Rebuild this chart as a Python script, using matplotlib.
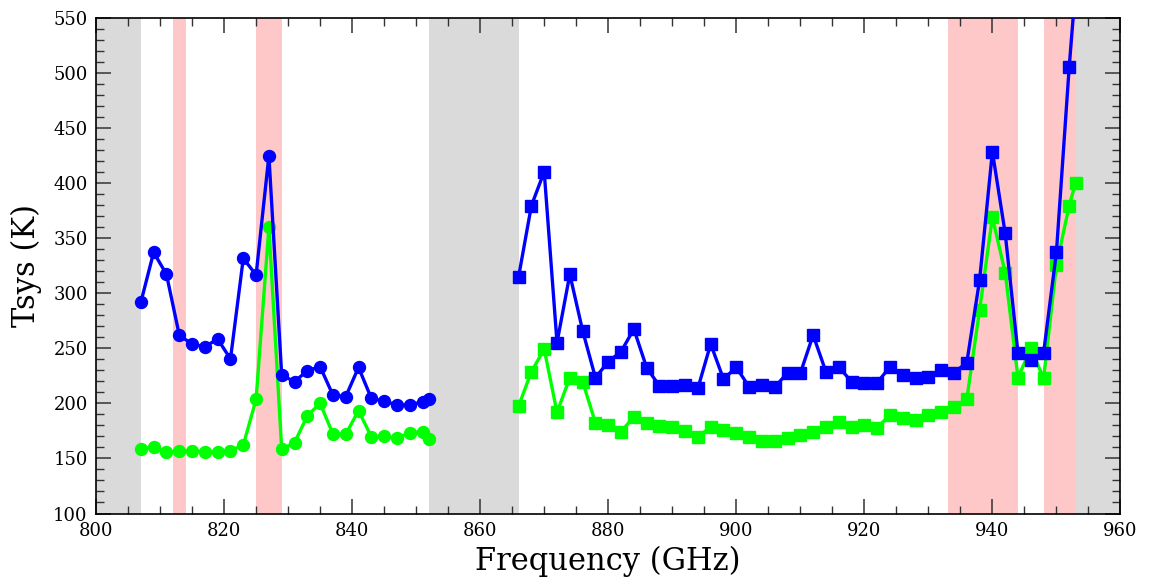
import matplotlib
matplotlib.use("Agg")
import matplotlib.pyplot as plt
from matplotlib.ticker import MultipleLocator

plt.rcParams['font.family'] = ['DejaVu Serif']

# Lower band (circles)
freq_lo = [807, 809, 811, 813, 815, 817, 819, 821, 823, 825, 827, 829, 831,
           833, 835, 837, 839, 841, 843, 845, 847, 849, 851, 852]
tsys_lo_blue = [291.6, 337, 317, 262, 253.5, 251.3, 258.3, 240.2, 331.5, 316.4,
                424.6, 225.6, 219.6, 229.6, 233.2, 207.5, 206, 232.6, 204.5, 202,
                198.4, 198.4, 201.4, 203.9]
tsys_lo_green = [158.5, 160.6, 155.5, 157, 157, 156, 156, 157, 162.1, 203.6,
                 359.6, 158.2, 164.2, 188.7, 200, 172.1, 172, 193.3, 169.7, 170,
                 168.2, 173.3, 174.2, 168]

# Upper band (squares)
freq_hi = [866, 868, 870, 872, 874, 876, 878, 880, 882, 884, 886, 888, 890,
           892, 894, 896, 898, 900, 902, 904, 906, 908, 910, 912, 914, 916,
           918, 920, 922, 924, 926, 928, 930, 932, 934, 936, 938, 940, 942,
           944, 946, 948, 950, 952, 953]
tsys_hi_blue = [314.8, 379.3, 410.1, 255, 317, 265.9, 223.2, 237.7, 246.8, 267.4,
                232.3, 215.7, 215.7, 216.6, 213.6, 253.8, 222, 232.6, 215, 216.3,
                214.5, 227.7, 227.2, 261.9, 228.6, 233, 219.6, 218.7, 218.7, 233,
                225.6, 222.7, 224.1, 230, 227.8, 236.8, 311.8, 428.3, 354.2, 245.3,
                239.3, 245.9, 337, 505.4, 578]
tsys_hi_green = [197.5, 228.6, 249.2, 191.8, 223.2, 219.6, 182.4, 180.3, 174.2,
                 187.8, 182.4, 179.4, 178.8, 175.1, 169.1, 178.8, 175.7, 173.3,
                 169.7, 166, 166, 168.2, 171.2, 174.2, 178.8, 183.3, 178.8, 180.3,
                 177.9, 189.4, 186.4, 184.8, 189.4, 192.4, 196.3, 203.6, 284.6,
                 368.7, 318.5, 223.2, 249.8, 222.7, 325.4, 379.3, 400.1]

gray_bands = [(800, 807), (852, 866), (953, 960)]
pink_bands = [(812, 814), (825, 829), (933, 944), (948, 953)]

fig = plt.figure(figsize=(11.5, 5.88), dpi=100)
ax = fig.add_axes([0.0835, 0.1267, 0.8908, 0.8435])

for a, b in gray_bands:
    ax.axvspan(a, b, color='#dadada', lw=0, zorder=0)
for a, b in pink_bands:
    ax.axvspan(a, b, color='#ffc8c8', lw=0, zorder=0)

ax.plot(freq_lo, tsys_lo_green, '-o', color='#00ff00', lw=2.4, ms=8.6, zorder=2)
ax.plot(freq_lo, tsys_lo_blue, '-o', color='#0000ff', lw=2.4, ms=8.6, zorder=3)
ax.plot(freq_hi, tsys_hi_green, '-s', color='#00ff00', lw=2.4, ms=9.0, zorder=2)
ax.plot(freq_hi, tsys_hi_blue, '-s', color='#0000ff', lw=2.4, ms=9.0, zorder=3)

ax.set_xlim(800, 960)
ax.set_ylim(100, 550)
ax.xaxis.set_major_locator(MultipleLocator(20))
ax.xaxis.set_minor_locator(MultipleLocator(5))
ax.yaxis.set_major_locator(MultipleLocator(50))
ax.yaxis.set_minor_locator(MultipleLocator(10))
ax.tick_params(which='both', direction='in', top=True, right=True,
               labelsize=13, color='#333333')
ax.tick_params(which='major', length=11, width=1.1, pad=6)
ax.tick_params(which='minor', length=5.5, width=1.0)
for s in ax.spines.values():
    s.set_linewidth(1.2)

ax.set_xlabel('Frequency (GHz)', fontsize=22, labelpad=4)
ax.set_ylabel('Tsys (K)', fontsize=22, labelpad=8)

fig.savefig('out.png', dpi=100)
